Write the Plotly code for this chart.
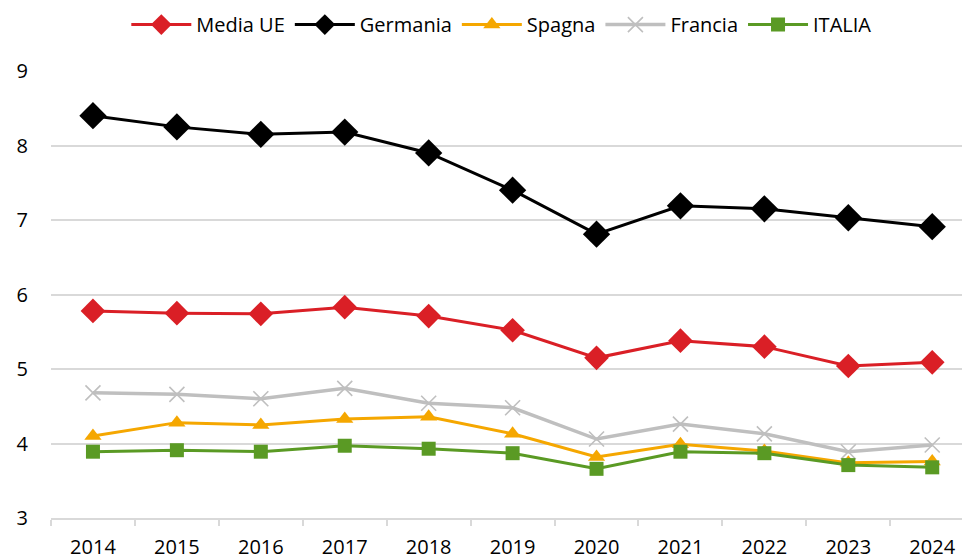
import plotly.graph_objects as go

years = ["2014", "2015", "2016", "2017", "2018", "2019", "2020", "2021", "2022", "2023", "2024"]
media_ue = [5.78, 5.75, 5.74, 5.83, 5.71, 5.52, 5.15, 5.38, 5.30, 5.04, 5.09]
germania = [8.40, 8.25, 8.15, 8.18, 7.90, 7.40, 6.81, 7.19, 7.15, 7.03, 6.91]
spagna = [4.10, 4.28, 4.25, 4.33, 4.36, 4.13, 3.82, 3.99, 3.90, 3.74, 3.76]
francia = [4.68, 4.66, 4.60, 4.74, 4.54, 4.48, 4.06, 4.26, 4.13, 3.89, 3.98]
italia = [3.89, 3.91, 3.89, 3.97, 3.93, 3.87, 3.66, 3.89, 3.87, 3.71, 3.68]
y_ticks = [3, 4, 5, 6, 7, 8, 9]

series = [
    ("Media UE", media_ue, "#DA1F26", "diamond", 19, 3),
    ("Germania", germania, "#000000", "diamond", 21, 3),
    ("Spagna", spagna, "#F5A700", "triangle-up", 15, 3),
    ("Francia", francia, "#BFBFBF", "x-thin", 15, 3.5),
    ("ITALIA", italia, "#5A9A24", "square", 14, 3),
]

fig = go.Figure()
for name, vals, color, sym, size, lw in series:
    marker = dict(symbol=sym, size=size, color=color)
    if sym == "x-thin":
        marker["line"] = dict(color=color, width=1.6)
    fig.add_trace(go.Scatter(
        x=years, y=vals, name=name, mode="lines+markers",
        line=dict(color=color, width=lw), marker=marker,
    ))

fig.update_layout(
    width=962, height=552,
    margin=dict(l=43, r=0, t=63, b=42, autoexpand=False),
    paper_bgcolor="white", plot_bgcolor="white",
    font=dict(family="Open Sans, Noto Sans, sans-serif", size=20, color="#000000"),
    showlegend=True,
    legend=dict(orientation="h", x=0.49, xanchor="center", yref="container",
                y=0.97, yanchor="middle", font=dict(size=20),
                itemwidth=60, traceorder="normal"),
)
fig.update_xaxes(
    type="category", range=[-0.5, 10.45], automargin=False,
    showgrid=False, showline=True, linecolor="#D9D9D9", linewidth=1.5,
    ticks="outside", tickson="boundaries", ticklen=6, tickcolor="#D9D9D9", tickwidth=1.5,
    ticklabelstandoff=10, tickfont=dict(size=20),
)
fig.update_yaxes(
    range=[3, 9], tickvals=y_ticks, automargin=False,
    showgrid=True, gridcolor="#D9D9D9", gridwidth=1.5,
    zeroline=False, showline=False,
    ticklabelstandoff=22, tickfont=dict(size=20),
)

fig.write_html("out.html")
